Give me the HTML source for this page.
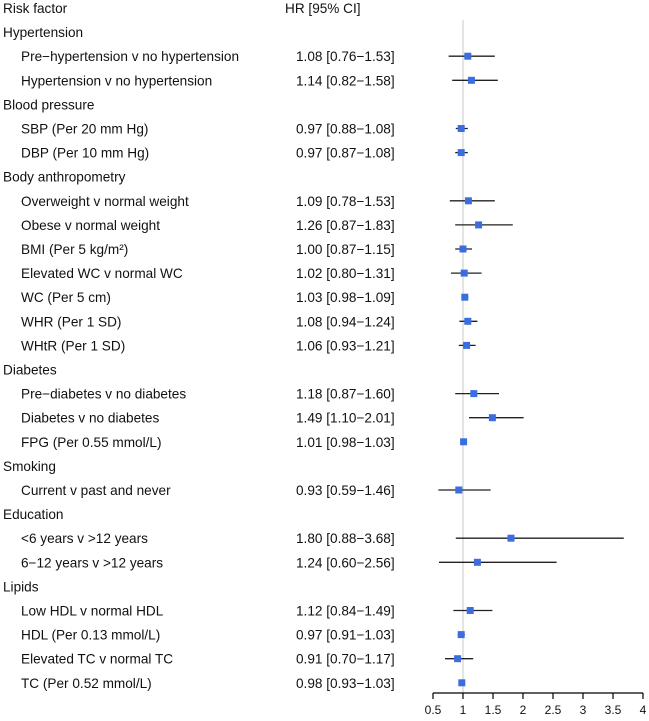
<!DOCTYPE html>
<html><head><meta charset="utf-8"><style>
body{margin:0;background:#fff;}
svg text{font-family:"Liberation Sans",Arial,sans-serif;font-size:13.6px;fill:#111;}
</style></head><body>
<svg id="c" width="649" height="716"></svg>
<script>
const labels=["Hypertension","Pre\u2212hypertension v no hypertension","Hypertension v no hypertension","Blood pressure","SBP (Per 20 mm Hg)","DBP (Per 10 mm Hg)","Body anthropometry","Overweight v normal weight","Obese v normal weight","BMI (Per 5 kg/m²)","Elevated WC v normal WC","WC (Per 5 cm)","WHR (Per 1 SD)","WHtR (Per 1 SD)","Diabetes","Pre\u2212diabetes v no diabetes","Diabetes v no diabetes","FPG (Per 0.55 mmol/L)","Smoking","Current v past and never","Education","<6 years v >12 years","6\u221212 years v >12 years","Lipids","Low HDL v normal HDL","HDL (Per 0.13 mmol/L)","Elevated TC v normal TC","TC (Per 0.52 mmol/L)"];
const hr=[null,1.08,1.14,null,0.97,0.97,null,1.09,1.26,1.00,1.02,1.03,1.08,1.06,null,1.18,1.49,1.01,null,0.93,null,1.80,1.24,null,1.12,0.97,0.91,0.98];
const lo=[null,0.76,0.82,null,0.88,0.87,null,0.78,0.87,0.87,0.80,0.98,0.94,0.93,null,0.87,1.10,0.98,null,0.59,null,0.88,0.60,null,0.84,0.91,0.70,0.93];
const hi=[null,1.53,1.58,null,1.08,1.08,null,1.53,1.83,1.15,1.31,1.09,1.24,1.21,null,1.60,2.01,1.03,null,1.46,null,3.68,2.56,null,1.49,1.03,1.17,1.03];
const ticks=[0.5,1,1.5,2,2.5,3,3.5,4];
const svg=document.getElementById('c');const NS="http://www.w3.org/2000/svg";
const x=v=>433+(v-0.5)*60;const y=i=>8+(i+1)*24.1;
function mk(t,a,p){const e=document.createElementNS(NS,t);for(const k in a)e.setAttribute(k,a[k]);(p||svg).appendChild(e);return e;}
let t=mk('text',{x:3,y:13});t.textContent="Risk factor";


t=mk('text',{x:285,y:13});t.textContent="HR [95% CI]";


let ref=mk('line',{x1:x(1),x2:x(1),y1:20,y2:693,stroke:'#c8c8c8','stroke-width':1});


labels.forEach((l,i)=>{
 const yy=y(i);const cat=hr[i]===null;
 const tx=mk('text',{x:cat?3:21,y:yy+5});tx.textContent=l;
 
 
 if(!cat){
  const v=mk('text',{x:296,y:yy+5});v.textContent=hr[i].toFixed(2)+" ["+lo[i].toFixed(2)+"\u2212"+hi[i].toFixed(2)+"]";
  
  
  const w=mk('line',{x1:x(lo[i]),x2:x(hi[i]),y1:yy,y2:yy,stroke:'#222','stroke-width':1.3});
  
  
  const m=mk('rect',{x:x(hr[i])-3.5,y:yy-3.5,width:7,height:7,fill:'#3a6ee0'});
  
  
 }
});
const ax=mk('line',{x1:x(0.5),x2:x(4),y1:693,y2:693,stroke:'#000','stroke-width':1.2});


ticks.forEach(v=>{
 const tk=mk('line',{x1:x(v),x2:x(v),y1:693,y2:699,stroke:'#000','stroke-width':1.2});
 
 
 const tl=mk('text',{x:x(v),y:714,'text-anchor':'middle',style:'font-size:12px'});tl.textContent=String(v);
 
 
});
</script>
</body></html>
